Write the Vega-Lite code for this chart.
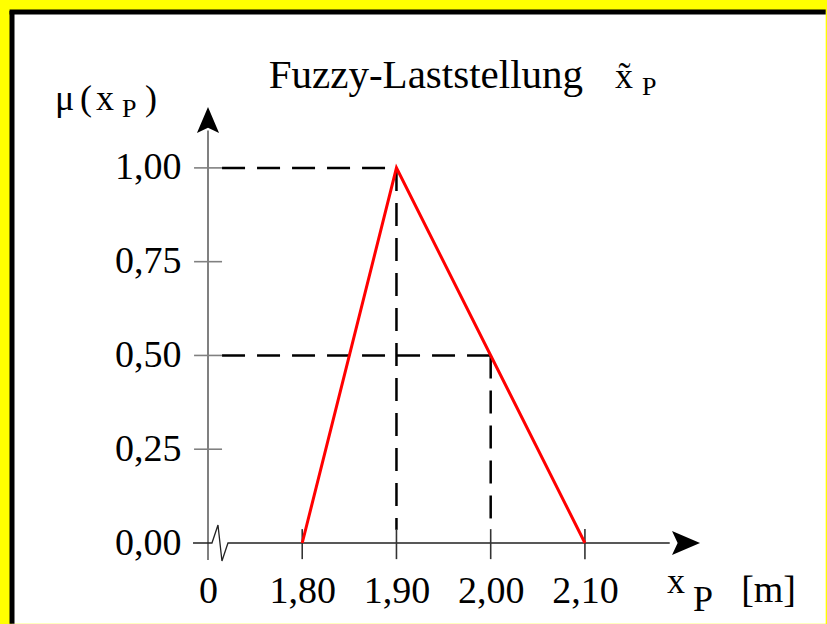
{
  "$schema": "https://vega.github.io/schema/vega-lite/v6.json",
  "width": 490,
  "height": 437,
  "autosize": {"type": "none"},
  "padding": {"left": 208, "top": 106, "right": 129, "bottom": 81},
  "background": "#ffff00",
  "config": {"view": {"stroke": null}, "font": "Liberation Serif"},
  "datasets": {
    "frame": [{"x": 1.492, "x2": 2.3555, "y": 1.4156, "y2": -0.215}],
    "frameTop": [{"x": 1.4894, "x2": 2.3555, "y": 1.4156}],
    "frameLeft": [{"x": 1.492, "y": 1.4183, "y2": -0.215}],
    "dashed": [
      {"x": 1.7149, "x2": 1.9, "y": 1.0, "y2": 1.0},
      {"x": 1.9, "x2": 1.9, "y": 1.0, "y2": 0.035},
      {"x": 1.7149, "x2": 2.0, "y": 0.5, "y2": 0.5},
      {"x": 2.0, "x2": 2.0, "y": 0.5, "y2": 0.045}
    ],
    "membership": [
      {"x": 1.8, "y": 0.0},
      {"x": 1.9, "y": 1.0},
      {"x": 2.1, "y": 0.0}
    ],
    "yticks": [
      {"x": 1.6852, "x2": 1.7149, "y": 0.25},
      {"x": 1.6852, "x2": 1.7149, "y": 0.5},
      {"x": 1.6852, "x2": 1.7149, "y": 0.75},
      {"x": 1.6852, "x2": 1.7149, "y": 1.0}
    ],
    "xticks": [
      {"x": 1.8, "y": 0.037, "y2": -0.043},
      {"x": 1.9, "y": 0.037, "y2": -0.043},
      {"x": 2.0, "y": 0.037, "y2": -0.043},
      {"x": 2.1, "y": 0.037, "y2": -0.043}
    ],
    "yaxisline": [{"x": 1.7, "y": -0.045, "y2": 1.1}],
    "xaxisline": [
      {"x": 1.6841, "y": 0.0},
      {"x": 1.7042, "y": 0.0},
      {"x": 1.7106, "y": 0.048},
      {"x": 1.7148, "y": -0.048},
      {"x": 1.7212, "y": 0.0},
      {"x": 2.19, "y": 0.0}
    ],
    "arrowUp": [{"x": 1.7, "y": 1.1277}],
    "arrowRight": [{"x": 2.2073, "y": 0.0}],
    "textTitle": [
      {"x": 2.098, "y": 1.213, "t": "Fuzzy-Laststellung"}
    ],
    "textBigRight": [
      {"x": 2.324, "y": -0.1573, "t": "[m]"}
    ],
    "textMidLeft": [
      {"x": 2.1319, "y": 1.213, "t": "x\u0303"},
      {"x": 1.5376, "y": 1.1544, "t": "μ"},
      {"x": 1.5642, "y": 1.1544, "t": "("},
      {"x": 1.5811, "y": 1.1544, "t": "x"},
      {"x": 1.6331, "y": 1.1544, "t": ")"},
      {"x": 2.1871, "y": -0.1333, "t": "x"},
      {"x": 2.2147, "y": -0.1813, "t": "P"}
    ],
    "textSub": [
      {"x": 2.1606, "y": 1.1944, "t": "P"},
      {"x": 1.6087, "y": 1.1357, "t": "P"}
    ]
  },
  "encoding": {
    "x": {
      "field": "x",
      "type": "quantitative",
      "scale": {"domain": [1.7, 2.22], "nice": false, "zero": false},
      "axis": {
        "values": [1.7, 1.8, 1.9, 2.0, 2.1],
        "labelExpr": "datum.value < 1.75 ? '0' : replace(format(datum.value, '.2f'), '.', ',')",
        "labelFont": "Liberation Serif",
        "labelFontSize": 38,
        "labelColor": "#000000",
        "labelPadding": 29,
        "labelFlush": false,
        "labelOverlap": false,
        "domain": false,
        "ticks": false,
        "tickSize": 0,
        "grid": false,
        "title": null,
        "zindex": 2
      }
    },
    "y": {
      "field": "y",
      "type": "quantitative",
      "scale": {"domain": [0, 1.165], "nice": false, "zero": false},
      "axis": {
        "values": [0, 0.25, 0.5, 0.75, 1.0],
        "labelExpr": "replace(format(datum.value, '.2f'), '.', ',')",
        "labelFont": "Liberation Serif",
        "labelFontSize": 38,
        "labelColor": "#000000",
        "labelPadding": 27,
        "labelOverlap": false,
        "labelFlush": false,
        "domain": false,
        "ticks": false,
        "tickSize": 0,
        "grid": false,
        "title": null,
        "zindex": 2
      }
    }
  },
  "layer": [
    {
      "data": {"name": "frame"},
      "mark": {"type": "rect", "fill": "#ffffff", "strokeWidth": 0, "clip": false},
      "encoding": {"x2": {"field": "x2"}, "y2": {"field": "y2"}}
    },
    {
      "data": {"name": "frameTop"},
      "mark": {"type": "rule", "color": "#000000", "strokeWidth": 5, "clip": false},
      "encoding": {"x2": {"field": "x2"}}
    },
    {
      "data": {"name": "frameLeft"},
      "mark": {"type": "rule", "color": "#000000", "strokeWidth": 5, "clip": false},
      "encoding": {"y2": {"field": "y2"}}
    },
    {
      "data": {"name": "dashed"},
      "mark": {"type": "rule", "color": "#000000", "strokeWidth": 2.5, "strokeDash": [23, 12], "clip": false},
      "encoding": {"x2": {"field": "x2"}, "y2": {"field": "y2"}}
    },
    {
      "data": {"name": "yaxisline"},
      "mark": {"type": "rule", "color": "#808080", "strokeWidth": 2, "clip": false},
      "encoding": {"y2": {"field": "y2"}}
    },
    {
      "data": {"name": "yticks"},
      "mark": {"type": "rule", "color": "#808080", "strokeWidth": 1.6, "clip": false},
      "encoding": {"x2": {"field": "x2"}}
    },
    {
      "data": {"name": "xaxisline"},
      "mark": {"type": "line", "color": "#222222", "strokeWidth": 1.3, "clip": false},
      "encoding": {}
    },
    {
      "data": {"name": "xticks"},
      "mark": {"type": "rule", "color": "#333333", "strokeWidth": 1.6, "clip": false},
      "encoding": {"y2": {"field": "y2"}}
    },
    {
      "data": {"name": "membership"},
      "mark": {"type": "line", "color": "#ff0000", "strokeWidth": 3, "clip": false},
      "encoding": {}
    },
    {
      "data": {"name": "arrowUp"},
      "mark": {"type": "point", "shape": "M0,-1 L0.85,1 L0,0.6 L-0.85,1 Z", "size": 676, "filled": true, "color": "#000000", "opacity": 1, "clip": false},
      "encoding": {}
    },
    {
      "data": {"name": "arrowRight"},
      "mark": {"type": "point", "shape": "M0,-1 L0.85,1 L0,0.6 L-0.85,1 Z", "size": 784, "angle": 90, "filled": true, "color": "#000000", "opacity": 1, "clip": false},
      "encoding": {}
    },
    {
      "data": {"name": "textTitle"},
      "mark": {"type": "text", "font": "Liberation Serif", "fontSize": 41, "align": "right", "baseline": "alphabetic", "color": "#000000", "clip": false},
      "encoding": {"text": {"field": "t"}}
    },
    {
      "data": {"name": "textBigRight"},
      "mark": {"type": "text", "font": "Liberation Serif", "fontSize": 38, "align": "right", "baseline": "alphabetic", "color": "#000000", "clip": false},
      "encoding": {"text": {"field": "t"}}
    },
    {
      "data": {"name": "textMidLeft"},
      "mark": {"type": "text", "font": "Liberation Serif", "fontSize": 36, "align": "left", "baseline": "alphabetic", "color": "#000000", "clip": false},
      "encoding": {"text": {"field": "t"}}
    },
    {
      "data": {"name": "textSub"},
      "mark": {"type": "text", "font": "Liberation Serif", "fontSize": 26, "align": "left", "baseline": "alphabetic", "color": "#000000", "clip": false},
      "encoding": {"text": {"field": "t"}}
    }
  ]
}
